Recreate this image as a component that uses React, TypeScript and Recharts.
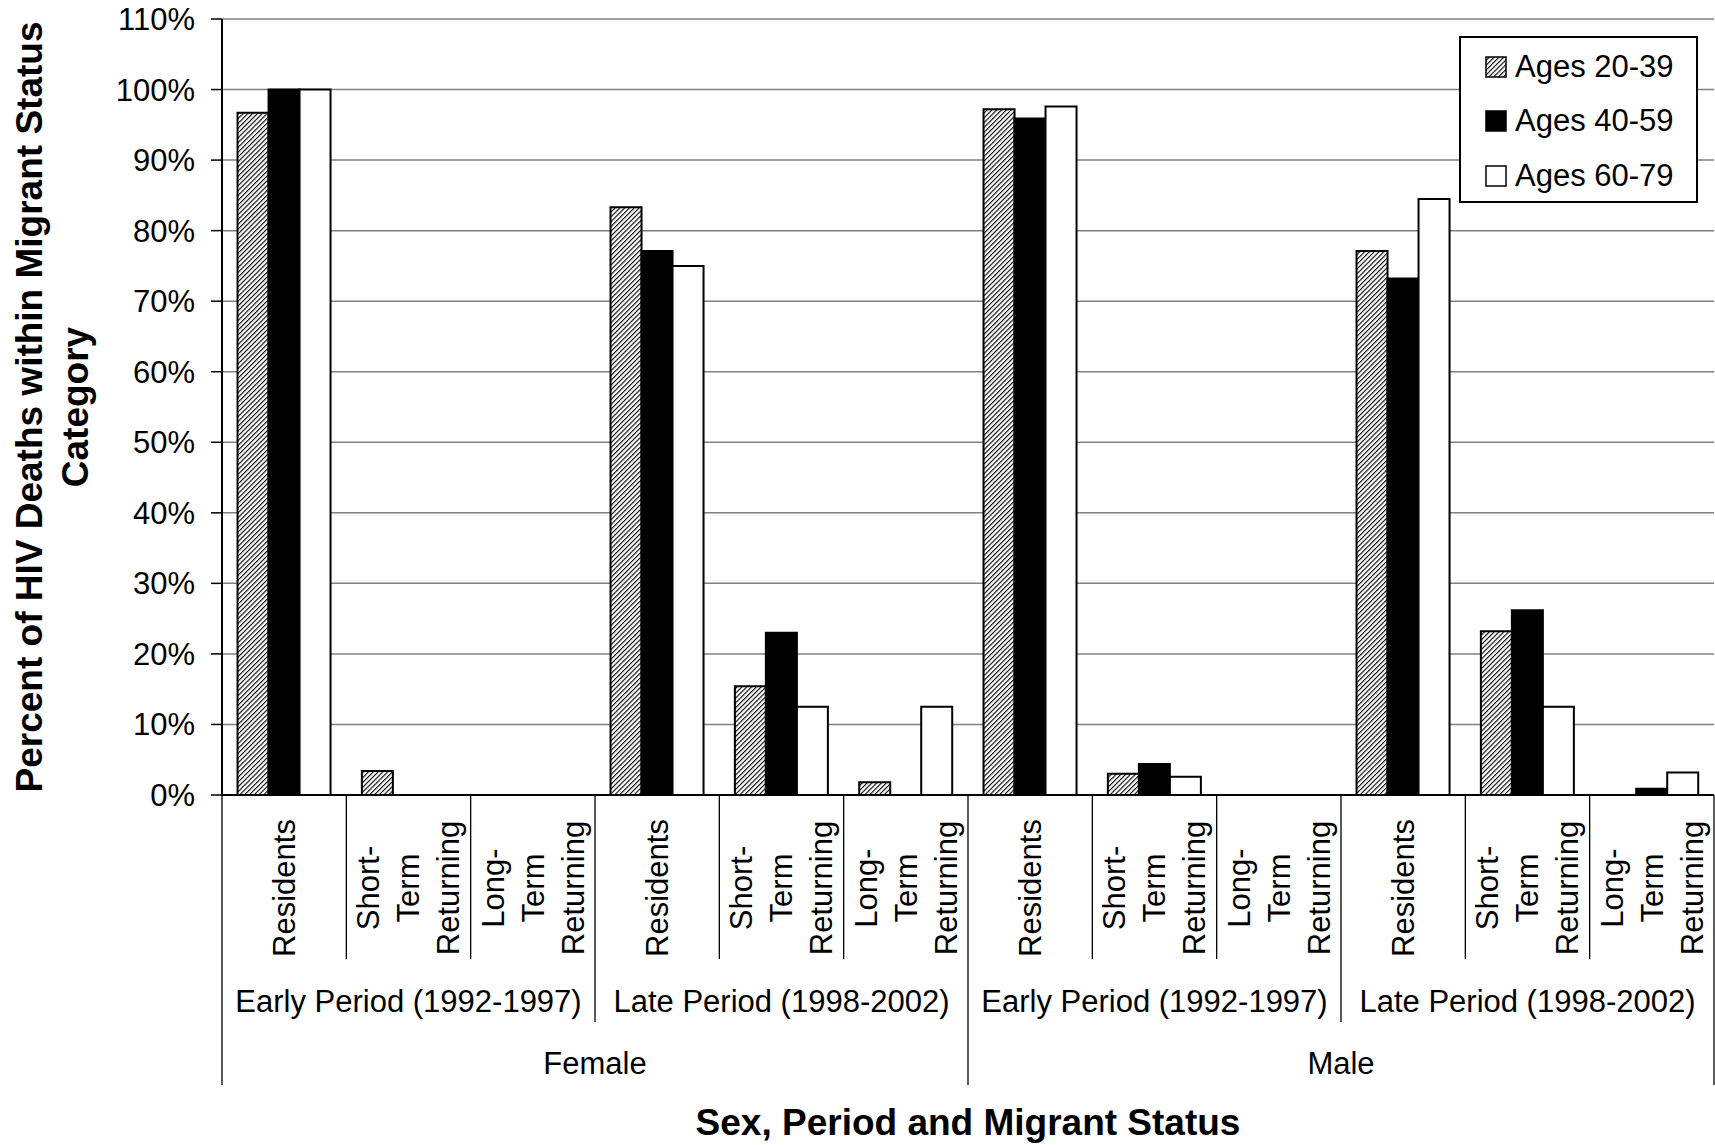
import React from 'react';
import { BarChart, Bar, XAxis, YAxis, CartesianGrid, Legend } from 'recharts';

const FONT = '"Liberation Sans", Arial, Helvetica, sans-serif';

// Category hierarchy: sex > period > migrant status
const sexes = ['Female', 'Male'];
const periods = ['Early Period (1992-1997)', 'Late Period (1998-2002)'];
const migrantStatuses: string[][] = [
  ['Residents'],
  ['Short-', 'Term', 'Returning'],
  ['Long-', 'Term', 'Returning'],
];

// Percent of HIV deaths within each migrant status category, by age group
const seriesNames = ['Ages 20-39', 'Ages 40-59', 'Ages 60-79'];
const ages2039 = [96.7, 3.4, 0, 83.3, 15.4, 1.8, 97.2, 3.0, 0, 77.1, 23.2, 0];
const ages4059 = [100, 0, 0, 77.1, 23.0, 0, 95.9, 4.4, 0, 73.2, 26.2, 0.9];
const ages6079 = [100, 0, 0, 75.0, 12.5, 12.5, 97.6, 2.6, 0, 84.5, 12.5, 3.2];

const yTicks = [0, 10, 20, 30, 40, 50, 60, 70, 80, 90, 100, 110];

type Row = {
  key: string;
  lines: string[];
  period: string;
  sex: string;
  a2039: number;
  a4059: number;
  a6079: number;
};

const data: Row[] = [];
sexes.forEach((sex, si) => {
  periods.forEach((period, pi) => {
    migrantStatuses.forEach((lines, mi) => {
      const i = si * 6 + pi * 3 + mi;
      data.push({
        key: `${sex}-${pi}-${mi}`,
        lines,
        period,
        sex,
        a2039: ages2039[i],
        a4059: ages4059[i],
        a6079: ages6079[i],
      });
    });
  });
});

const TICK_FONT = 31;
const TITLE_FONT = 37;

// Multi-level category axis: rotated status label, period row, sex row and separators
function CategoryTick(props: any) {
  const { x, y, payload, index } = props;
  const row = data.find((d) => d.key === payload.value) || data[index];
  const i = data.indexOf(row);
  const half = payload.offset || 62;
  const n = row.lines.length;
  const lineGap = 40;
  const sepLen = (pos: number) => {
    if (pos % 6 === 0) return 290;
    if (pos % 3 === 0) return 227;
    return 164;
  };
  return (
    <g>
      {row.lines.map((t, k) => {
        const cx = x + (k - (n - 1) / 2) * lineGap;
        return (
          <text
            key={k}
            transform={`translate(${cx}, ${y + 93}) rotate(-90)`}
            textAnchor="middle"
            dy="0.35em"
            fontFamily={FONT}
            fontSize={TICK_FONT}
            fill="#000"
          >
            {t}
          </text>
        );
      })}
      {i === 0 && (
        <line x1={x - half} x2={x - half} y1={y} y2={y + sepLen(0)} stroke="#000" strokeWidth={1.3} />
      )}
      <line
        x1={x + half}
        x2={x + half}
        y1={y}
        y2={y + sepLen(i + 1)}
        stroke="#000"
        strokeWidth={1.3}
      />
      {i % 3 === 1 && (
        <text x={x} y={y + 217} textAnchor="middle" fontFamily={FONT} fontSize={TICK_FONT} fill="#000">
          {row.period}
        </text>
      )}
      {i % 6 === 0 && (
        <text x={x + 5 * half} y={y + 279} textAnchor="middle" fontFamily={FONT} fontSize={TICK_FONT} fill="#000">
          {row.sex}
        </text>
      )}
    </g>
  );
}

function YTitle(props: any) {
  const vb = props.viewBox || { x: 0, y: 19, width: 222, height: 776 };
  const cy = vb.y + vb.height / 2;
  const lines = ['Percent of HIV Deaths within Migrant Status', 'Category'];
  return (
    <g>
      {lines.map((t, k) => (
        <text
          key={k}
          transform={`translate(${vb.x + 42 + k * 46}, ${cy}) rotate(-90)`}
          textAnchor="middle"
          fontFamily={FONT}
          fontWeight="bold"
          fontSize={TITLE_FONT}
          fill="#000"
        >
          {t}
        </text>
      ))}
    </g>
  );
}

function XTitle(props: any) {
  const vb = props.viewBox || { x: 222, y: 795, width: 1492, height: 350 };
  return (
    <text
      x={vb.x + vb.width / 2}
      y={vb.y + 340}
      textAnchor="middle"
      fontFamily={FONT}
      fontWeight="bold"
      fontSize={TITLE_FONT}
      fill="#000"
    >
      Sex, Period and Migrant Status
    </text>
  );
}

function HatchPattern({ id }: { id: string }) {
  return (
    <pattern id={id} patternUnits="userSpaceOnUse" width={3.4} height={3.4} patternTransform="rotate(45)">
      <rect width={3.4} height={3.4} fill="#fff" />
      <line x1={0} y1={0} x2={0} y2={3.4} stroke="#000" strokeWidth={2.2} />
    </pattern>
  );
}

function Swatch({ kind }: { kind: number }) {
  return (
    <svg width={22} height={22} style={{ display: 'block', marginRight: 8 }}>
      <defs>
        <HatchPattern id="legendHatch" />
      </defs>
      <rect
        x={1}
        y={1}
        width={20}
        height={20}
        fill={kind === 0 ? 'url(#legendHatch)' : kind === 1 ? '#000' : '#fff'}
        stroke="#000"
        strokeWidth={1.5}
      />
    </svg>
  );
}

function LegendBox() {
  const tops = [11, 65, 120];
  return (
    <div
      style={{
        position: 'relative',
        width: 239,
        height: 167,
        border: '2px solid #000',
        boxSizing: 'border-box',
        background: '#fff',
      }}
    >
      {seriesNames.map((name, k) => (
        <div
          key={name}
          style={{
            position: 'absolute',
            left: 24,
            top: tops[k],
            height: 36,
            display: 'flex',
            alignItems: 'center',
            fontFamily: FONT,
            fontSize: TICK_FONT,
            lineHeight: '36px',
            color: '#000',
            whiteSpace: 'nowrap',
          }}
        >
          <Swatch kind={k} />
          <span>{name}</span>
        </div>
      ))}
    </div>
  );
}

export default function App() {
  return (
    <div style={{ position: 'absolute', left: 0, top: 0, width: 1715, height: 1145, background: '#fff' }}>
      <BarChart
        width={1715}
        height={1145}
        data={data}
        margin={{ top: 19, right: 1, bottom: 0, left: 0 }}
        barCategoryGap="12.5%"
        barGap={0}
      >
        <defs>
          <HatchPattern id="hatch2039" />
        </defs>
        <CartesianGrid vertical={false} stroke="#808080" strokeWidth={1.5} />
        <XAxis
          dataKey="key"
          interval={0}
          height={350}
          tickSize={0}
          tickMargin={0}
          tickLine={false}
          axisLine={{ stroke: '#000', strokeWidth: 2 }}
          tick={<CategoryTick />}
          label={{ content: (p: any) => <XTitle {...p} /> }}
        />
        <YAxis
          width={222}
          domain={[0, 110]}
          ticks={yTicks}
          interval={0}
          tickFormatter={(v: number) => `${v}%`}
          tickSize={11}
          tickMargin={16}
          axisLine={{ stroke: '#000', strokeWidth: 2 }}
          tickLine={{ stroke: '#000', strokeWidth: 1.5 }}
          tick={{ fontSize: TICK_FONT, fill: '#000', fontFamily: FONT }}
          label={{ content: (p: any) => <YTitle {...p} /> }}
        />
        <Legend
          layout="vertical"
          align="center"
          verticalAlign="middle"
          content={() => <LegendBox />}
          wrapperStyle={{ left: 1459, top: 36, width: 240, height: 168, right: 'auto', bottom: 'auto' }}
        />
        <Bar dataKey="a2039" name={seriesNames[0]} fill="url(#hatch2039)" stroke="#000" strokeWidth={2} isAnimationActive={false} />
        <Bar dataKey="a4059" name={seriesNames[1]} fill="#000" stroke="#000" strokeWidth={2} isAnimationActive={false} />
        <Bar dataKey="a6079" name={seriesNames[2]} fill="#fff" stroke="#000" strokeWidth={2} isAnimationActive={false} />
      </BarChart>
    </div>
  );
}
